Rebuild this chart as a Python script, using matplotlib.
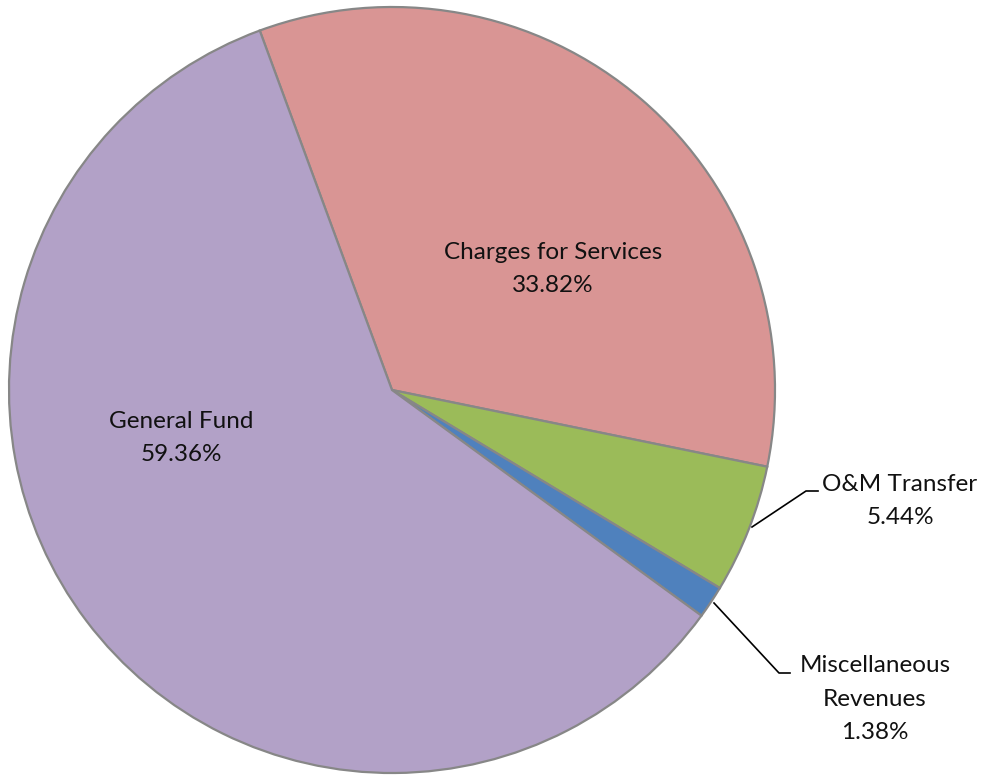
import matplotlib.pyplot as plt

W, H = 986, 775

labels = ["Charges for Services", "O&M Transfer", "Miscellaneous\nRevenues", "General Fund"]
shares = [33.82, 5.44, 1.38, 59.36]
colors = ["#D99594", "#9BBB59", "#4F81BD", "#B2A1C7"]

fig = plt.figure(figsize=(W / 100, H / 100), dpi=100)
ax = fig.add_axes([0, 0, 1, 1])

cx, cy, r = 392, H - 390, 383
ax.pie(shares, colors=colors, startangle=110.2, counterclock=False,
       center=(cx, cy), radius=r,
       wedgeprops=dict(edgecolor="#878787", linewidth=1.6))

# pie() sets its own limits, so put the pixel frame back afterwards
ax.set_xlim(0, W)
ax.set_ylim(0, H)
ax.set_aspect("equal")
ax.axis("off")

font = dict(family=["Lato", "DejaVu Sans"], fontsize=17.5, ha="center", va="center",
            linespacing=1.72, color="#111111")

def lab(i):
    return f"{labels[i]}\n{shares[i]:.2f}%"

# labels inside the two big slices
ax.text(553, H - 269, lab(0), **font)
ax.text(181, H - 438, lab(3), **font)

# small slices get leader lines
ax.plot([752, 806, 818], [H - 527, H - 491, H - 491], color="black", lw=1.2)
ax.text(900, H - 501, lab(1), **font)
ax.plot([714, 779, 790], [H - 603, H - 673, H - 673], color="black", lw=1.2)
ax.text(875, H - 699, lab(2), **font)

fig.savefig("out.png", dpi=100)
